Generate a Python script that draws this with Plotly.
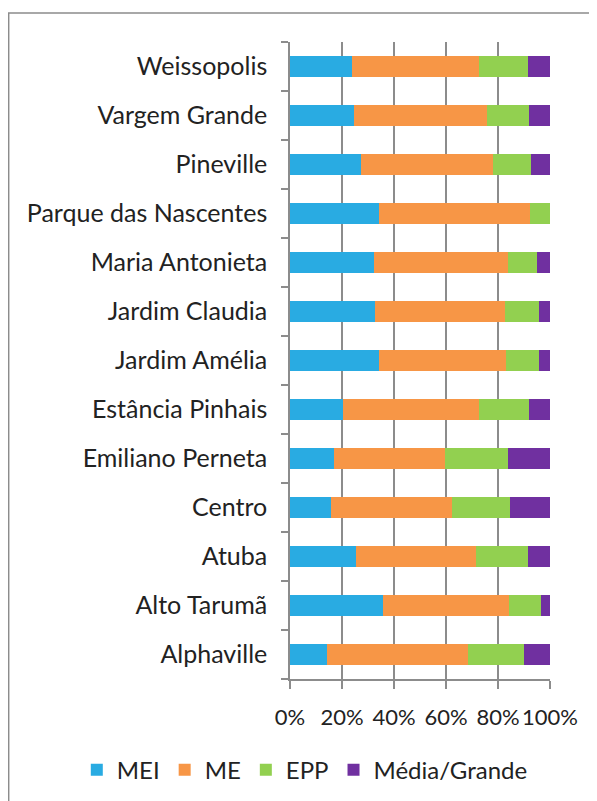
import plotly.graph_objects as go

# Bairros, de baixo para cima
bairros = ["Alphaville", "Alto Tarumã", "Atuba", "Centro", "Emiliano Perneta",
           "Estância Pinhais", "Jardim Amélia", "Jardim Claudia", "Maria Antonieta",
           "Parque das Nascentes", "Pineville", "Vargem Grande", "Weissopolis"]

# Participação (%) por porte de empresa
mei = [14.2, 35.9, 25.5, 15.9, 16.9, 20.5, 34.4, 32.8, 32.2, 34.4, 27.3, 24.6, 23.8]
me = [54.4, 48.2, 46.2, 46.5, 42.7, 52.3, 48.7, 50.0, 51.8, 57.8, 50.9, 51.3, 48.8]
epp = [21.4, 12.6, 19.8, 22.1, 24.2, 19.0, 12.7, 13.1, 11.0, 7.8, 14.5, 15.9, 18.9]
media_grande = [10.0, 3.3, 8.5, 15.5, 16.2, 8.2, 4.2, 4.1, 5.0, 0.0, 7.3, 8.2, 8.5]

series = [("MEI", mei, "#29ABE2"),
          ("ME", me, "#F79646"),
          ("EPP", epp, "#92D050"),
          ("Média/Grande", media_grande, "#7030A0")]

fig = go.Figure()
for name, vals, color in series:
    fig.add_trace(go.Bar(x=vals, y=bairros, name=name, orientation="h",
                         marker=dict(color=color, line=dict(width=0))))

grid = "#8c8c8c"
# the page body has an 8px margin, so the figure is 8px smaller each way
fig.update_layout(
    barmode="stack",
    barnorm="percent",
    bargap=0.59,
    width=589, height=793,
    margin=dict(l=282, r=47, t=34, b=122, autoexpand=False),
    paper_bgcolor="white", plot_bgcolor="white",
    font=dict(family="Lato", size=24, color="#222222"),
    legend=dict(orientation="h", x=-0.82, xanchor="left", y=-0.143,
                yanchor="middle", font=dict(size=24), traceorder="normal",
                itemwidth=30, bgcolor="rgba(0,0,0,0)"),
    xaxis=dict(range=[0, 100], tickvals=[0, 20, 40, 60, 80, 100],
               ticktext=["0%", "20%", "40%", "60%", "80%", "100%"],
               tickfont=dict(size=22),
               showgrid=True, gridcolor=grid, gridwidth=1.5,
               showline=True, linecolor=grid, linewidth=1.5,
               ticks="outside", ticklen=8, tickcolor=grid, tickwidth=1.5,
               ticklabelstandoff=10, zeroline=False, automargin=False),
    yaxis=dict(showgrid=False, showline=True, linecolor=grid, linewidth=1.5,
               ticks="outside", ticklen=7, tickcolor=grid, tickwidth=1.5,
               tickfont=dict(size=25),
               tickson="boundaries", ticklabelstandoff=16, automargin=False),
    shapes=[dict(type="rect", xref="paper", yref="paper",
                 x0=-1.082, x1=1.3, y0=1.0455, y1=-0.3,
                 line=dict(color=grid, width=1.5), layer="below")],
)

fig.write_html("out.html")
